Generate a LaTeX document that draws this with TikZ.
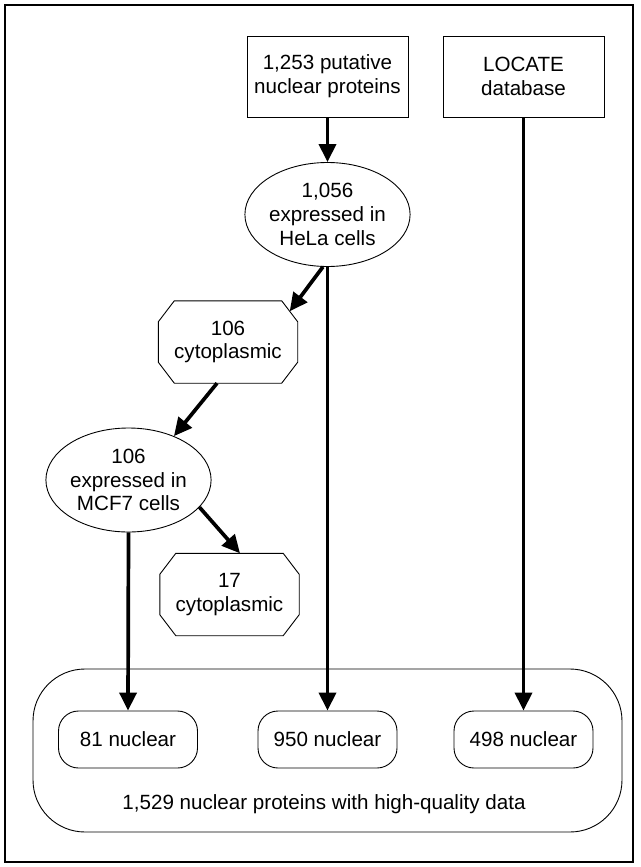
\documentclass[tikz,border=0pt]{standalone}
\usepackage{fontspec}
\setmainfont{Liberation Sans}
\usetikzlibrary{arrows.meta, shapes.geometric}
\begin{document}
\begin{tikzpicture}[
    x=1pt, y=-1pt,
    font=\fontsize{20.6}{23.8}\selectfont,
    thin line/.style={line width=0.9pt},
    source/.style={rectangle, draw, thin line, minimum width=161pt, minimum height=81pt, align=center, inner sep=2pt},
    filter/.style={ellipse, draw, thin line, minimum width=148pt, minimum height=104pt, align=center, inner sep=0pt},
    cyto/.style={rectangle, minimum width=139pt, minimum height=82pt, align=center, inner sep=2pt},
    result/.style={rectangle, rounded corners=20pt, draw, thin line, minimum width=139pt, minimum height=57pt, inner sep=2pt},
    group/.style={rectangle, rounded corners=52pt, draw, thin line, minimum width=589pt, minimum height=163pt},
    flow/.style={line width=3.7pt, -{Triangle[length=18pt, width=17pt]}}
]
\useasboundingbox (0,0) rectangle (640,867);
\draw[line width=1.5pt] (5,5) rectangle (633,862);

\node[source] (putative) at (327.5,76.5) {1,253 putative\\nuclear proteins};
\node[source] (locate) at (523.5,76.5) {LOCATE\\database};
\node[filter] (hela) at (327.5,214.5) {1,056\\expressed in\\HeLa cells};
\node[cyto] (cytoA) at (228,342) {106\\cytoplasmic};
\node[filter] (mcf) at (128.5,480) {106\\expressed in\\MCF7 cells};
\node[cyto] (cytoB) at (229.5,594.5) {17\\cytoplasmic};

\node[group] (all) at (327.5,750.5) {};
\node[result] (nucA) at (128,739.5) {81 nuclear};
\node[result] (nucB) at (327.5,739.5) {950 nuclear};
\node[result] (nucC) at (523.5,739.5) {498 nuclear};
\node (alltext) at (324,804) {1,529 nuclear proteins with high-quality data};

\foreach \n in {cytoA, cytoB}
    \draw[thin line] ([xshift=16pt]\n.north west) -- ([xshift=-16pt]\n.north east)
        -- ([yshift=-21pt]\n.north east) -- ([yshift=21pt]\n.south east)
        -- ([xshift=-16pt]\n.south east) -- ([xshift=16pt]\n.south west)
        -- ([yshift=21pt]\n.south west) -- ([yshift=-21pt]\n.north west) -- cycle;

\draw[flow] (putative.south) -- (hela.north);
\draw[flow] (locate.south) -- (nucC.north);
\draw[flow] (hela.265) -- ([xshift=-8pt, yshift=-10.5pt]cytoA.north east);
\draw[flow] (hela.south) -- (nucB.north);
\draw[flow] ([xshift=-11pt]cytoA.south) -- (mcf.44);
\draw[flow] (mcf.-21) -- ([xshift=10.5pt]cytoB.north);
\draw[flow] (mcf.south) -- (nucA.north);
\end{tikzpicture}
\end{document}
